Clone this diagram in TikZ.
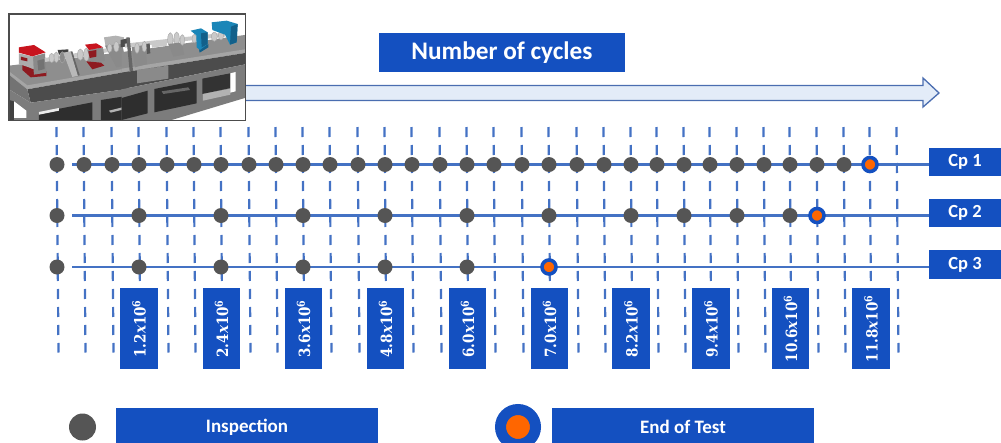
\documentclass[tikz,border=0pt]{standalone}
\usepackage{fontspec}
\setmainfont{Carlito}
\newfontfamily\valfont{DejaVu Serif}
\definecolor{boxblue}{HTML}{1450C0}
\definecolor{lineblue}{HTML}{4472C4}
\definecolor{dotgray}{HTML}{555555}
\definecolor{endorange}{HTML}{FF6600}
\definecolor{arrowfill}{HTML}{E3ECF8}
\definecolor{arrowline}{HTML}{4A6DB0}
\definecolor{rigtop}{HTML}{8E8E8E}
\definecolor{rigedge}{HTML}{A5A5A5}
\definecolor{rigdark}{HTML}{4C4C4C}
\definecolor{rigframe}{HTML}{7C7C7C}
\definecolor{rigwin}{HTML}{2E2E2E}
\definecolor{rigred}{HTML}{C8141E}
\definecolor{rigreddk}{HTML}{8E1A20}
\definecolor{rigblue}{HTML}{1A86B8}
\definecolor{rigbluedk}{HTML}{12608A}
\definecolor{rigsilver}{HTML}{C9C9C9}
\definecolor{rigsteel}{HTML}{8A8A8A}
\tikzset{
 bluebox/.style={fill=boxblue,text=white,font=\bfseries,inner sep=0pt,anchor=center},
 dashline/.style={draw=lineblue,line width=2.2pt,dash pattern=on 10pt off 8pt},
 rowline/.style={draw=lineblue,line width=2.2pt},
 dot/.style={circle,fill=dotgray,inner sep=0pt,minimum size=15pt},
 enddot/.style={circle,fill=endorange,draw=boxblue,line width=3.6pt,inner sep=0pt,minimum size=14pt},
 valbox/.style={bluebox,minimum width=37.5pt,minimum height=81pt},
 cpbox/.style={bluebox,minimum width=72pt,minimum height=28.5pt,font=\bfseries\fontsize{18.5}{18.5}\selectfont},
 legbox/.style={bluebox,minimum width=262.5pt,font=\bfseries\fontsize{19}{19}\selectfont},
 flange/.style={fill=#1,draw=black!35,line width=0.4pt},
}
\newcommand{\valtext}[1]{\rotatebox{90}{\scalebox{0.87}[1]{\valfont\bfseries\fontsize{15.5}{15.5}\selectfont #1\textit{x}10\textsuperscript{6}}}}
\begin{document}
\begin{tikzpicture}[x=1pt,y=-1pt]
\useasboundingbox (0,0) rectangle (1001,442);
% main arrow
\draw[fill=arrowfill,draw=arrowline,line width=1.3pt,line join=miter]
 (240,85.5) -- (923,85.5) -- (923,78) -- (939,93) -- (923,107) -- (923,100.5) -- (240,100.5) -- cycle;
% photo of the test rig
\begin{scope}
\clip (9,14) rectangle (245.5,120.5);
\fill[white] (9,14) rectangle (245.5,120.5);
% left half of the rig
\begin{scope}[shift={(9,14)},x=0.3333pt,y=-0.3333pt]
 \fill[rigtop] (0,155) -- (360,112) -- (360,170) -- (55,222) -- (0,180) -- cycle;
 \fill[rigedge] (0,172) -- (55,214) -- (360,162) -- (360,172) -- (55,226) -- (0,182) -- cycle;
 \fill[rigdark] (55,226) -- (360,172) -- (360,224) -- (65,266) -- cycle;
 \fill[black!55] (0,182) -- (55,226) -- (65,266) -- (0,226) -- cycle;
 \fill[rigframe] (0,226) -- (65,266) -- (360,224) -- (360,318) -- (0,318) -- cycle;
 \fill[white] (15,262) -- (52,290) -- (52,312) -- (15,312) -- cycle;
 \fill[black!75] (0,258) -- (15,262) -- (15,318) -- (0,318) -- cycle;
 \fill[rigwin] (90,296) -- (250,265) -- (250,318) -- (90,318) -- cycle;
 \fill[white!85!gray] (90,294) -- (150,282) -- (150,290) -- (90,302) -- cycle;
 \fill[rigwin] (276,258) -- (360,245) -- (360,318) -- (276,318) -- cycle;
 \fill[gray!60] (300,290) -- (340,280) -- (345,286) -- (305,296) -- cycle;
 % first red unit
 \fill[rigreddk] (40,150) -- (70,165) -- (112,172) -- (112,186) -- (65,190) -- (40,168) -- cycle;
 \fill[rigsteel] (70,128) -- (108,118) -- (112,176) -- (75,182) -- cycle;
 \fill[black!55] (85,140) -- (105,135) -- (107,165) -- (88,170) -- cycle;
 \fill[gray!65] (30,118) -- (72,128) -- (74,165) -- (30,150) -- cycle;
 \fill[rigreddk] (36,128) -- (55,133) -- (55,142) -- (36,138) -- cycle;
 \fill[rigred] (30,100) -- (75,93) -- (110,115) -- (70,127) -- (30,116) -- cycle;
 % shaft between the units
 \draw[rigsilver,line width=4pt] (108,138) -- (300,108);
 \fill[flange=rigsilver] (128,132) ellipse (8 and 14);
 \fill[flange=rigsilver] (142,130) ellipse (7 and 16);
 \fill[black!75] (146,108) -- (178,106) -- (178,118) -- (150,122) -- cycle;
 \fill[flange=rigsteel] (160,130) ellipse (8 and 17);
 % support plate
 \fill[gray!55] (163,116) -- (185,112) -- (207,185) -- (190,189) -- cycle;
 \fill[black!60] (185,112) -- (190,112) -- (212,183) -- (207,185) -- cycle;
 % second red unit
 \fill[flange=rigsilver] (214,122) ellipse (9 and 17);
 \fill[flange=rigsilver] (232,122) ellipse (8 and 20);
 \fill[rigsteel] (235,108) -- (282,100) -- (288,140) -- (248,148) -- cycle;
 \fill[rigreddk] (232,142) -- (276,146) -- (286,155) -- (250,166) -- cycle;
 \fill[rigreddk] (238,112) -- (262,108) -- (262,128) -- (242,132) -- cycle;
 \fill[rigred] (228,92) -- (262,88) -- (282,100) -- (240,108) -- cycle;
 % housing
 \fill[gray!60] (285,70) -- (320,65) -- (345,70) -- (345,92) -- (290,98) -- cycle;
 \fill[rigsteel] (288,95) -- (340,90) -- (352,155) -- (322,160) -- cycle;
 \fill[flange=rigsilver] (302,102) ellipse (7 and 13);
 \fill[flange=rigsilver] (322,98) ellipse (8 and 16);
 \fill[black!70] (335,78) -- (360,72) -- (360,96) -- (335,100) -- cycle;
\end{scope}
% right half of the rig
\begin{scope}[shift={(125,14)},x=0.3333pt,y=-0.3333pt]
 \fill[rigtop] (-10,115) -- (366,62) -- (366,112) -- (-10,174) -- cycle;
 \fill[rigedge] (-10,164) -- (366,105) -- (366,116) -- (-10,176) -- cycle;
 \fill[rigdark] (-10,176) -- (366,116) -- (366,150) -- (-10,226) -- cycle;
 \fill[rigsteel] (36,168) -- (130,155) -- (130,194) -- (36,208) -- cycle;
 \fill[rigframe] (-10,226) -- (366,150) -- (366,250) -- (140,318) -- (-10,318) -- cycle;
 \fill[rigwin] (-10,252) -- (68,230) -- (68,298) -- (-10,318) -- cycle;
 \fill[rigwin] (88,225) -- (215,200) -- (215,268) -- (88,295) -- cycle;
 \fill[black!60] (110,232) -- (190,220) -- (195,228) -- (115,240) -- cycle;
 \fill[black!80] (232,194) -- (316,178) -- (316,222) -- (232,240) -- cycle;
 \fill[gray!60] (234,240) -- (316,224) -- (316,242) -- (234,260) -- cycle;
 \fill[white] (316,178) -- (332,174) -- (332,232) -- (316,236) -- cycle;
 % shaft and couplings
 \draw[rigsilver,line width=4pt] (0,95) -- (300,62);
 \draw[rigsilver,line width=6pt] (80,92) -- (125,86);
 \fill[rigsteel] (20,100) -- (62,92) -- (66,150) -- (30,160) -- cycle;
 \fill[black!60] (4,70) -- (14,70) -- (24,170) -- (14,172) -- cycle;
 \fill[flange=rigsilver] (36,102) ellipse (7 and 16);
 \fill[flange=rigsilver] (58,98) ellipse (7 and 16);
 \fill[black!65] (64,90) -- (74,88) -- (76,118) -- (66,120) -- cycle;
 \fill[flange=rigsilver] (136,76) ellipse (8 and 20);
 \fill[flange=rigsilver] (155,74) ellipse (8 and 20);
 \fill[rigsteel] (130,90) -- (170,85) -- (178,122) -- (145,128) -- cycle;
 \fill[flange=rigsilver] (172,78) ellipse (7 and 16);
 \fill[flange=rigsilver] (208,74) ellipse (7 and 13);
 % blue units
 \fill[rigbluedk] (222,105) -- (250,90) -- (250,100) -- (224,116) -- cycle;
 \fill[rigblue] (197,50) -- (228,43) -- (248,55) -- (248,90) -- (225,108) -- (215,100) -- (214,64) -- cycle;
 \fill[rigbluedk] (228,58) -- (248,55) -- (248,90) -- (230,100) -- cycle;
 \fill[flange=rigsilver] (268,68) ellipse (9 and 14);
 \fill[flange=rigsilver] (288,64) ellipse (8 and 14);
 \fill[rigblue] (260,25) -- (305,20) -- (338,30) -- (335,85) -- (315,92) -- (300,62) -- (262,48) -- cycle;
 \fill[rigbluedk] (318,38) -- (338,30) -- (335,85) -- (315,92) -- cycle;
\end{scope}
\end{scope}
\node[draw=black!70,line width=1.2pt,minimum width=236.5pt,minimum height=106.5pt,inner sep=0pt] (photo) at (127.25,67.25) {};
% title
\node[bluebox,minimum width=246pt,minimum height=39pt,font=\bfseries\fontsize{25.3}{25.3}\selectfont] (title) at (502,52.5) {Number of cycles};
% cycle marks
\foreach \x [count=\i] in {57,84,112,139,167,194,221,249,276,303,330,358,385,412,440,467,494,522,549,577,604,631,657,684,710,737,764,790,817,844,870,897}{
 \coordinate (t\i) at (\x-0.5,127);
 \coordinate (b\i) at (\x+1.5,352.5);
 \draw[dashline] (t\i) -- (b\i);
}
% row labels
\node[cpbox] (cp1) at (965,162) {Cp 1};
\node[cpbox] (cp2) at (965,213) {Cp 2};
\node[cpbox] (cp3) at (965,264.5) {Cp 3};
\coordinate (s1) at (72,164.5);
\coordinate (s2) at (72,215.5);
\coordinate (s3) at (72,267);
\draw[rowline] (s1) -- (s1 -| cp1.west);
\draw[rowline] (s2) -- (s2 -| cp2.west);
\draw[rowline] (s3) -- (s3 -| cp3.west);
% row 1
\foreach \x [count=\i] in {57,84,112,139,167,194,221,249,276,303,330,358,385,412,440,467,494,522,549,577,604,631,657,684,710,737,764,790,817,844}{
 \node[dot] (ra\i) at (\x,164.5) {};
}
\node[enddot] (enda) at (870,164.5) {};
% row 2
\foreach \x [count=\i] in {57,139,221,303,385,467,549,631,684,737,790}{
 \node[dot] (rb\i) at (\x,215.5) {};
}
\node[enddot] (endb) at (817,215.5) {};
% row 3
\foreach \x [count=\i] in {57,139,221,303,385,467}{
 \node[dot] (rc\i) at (\x,267) {};
}
\node[enddot] (endc) at (549,267) {};
% values
\node[valbox] (v1) at (139,328.75) {\valtext{1.2}};
\node[valbox] (v2) at (221.5,328.75) {\valtext{2.4}};
\node[valbox] (v3) at (303.5,328.75) {\valtext{3.6}};
\node[valbox] (v4) at (385.5,328.75) {\valtext{4.8}};
\node[valbox] (v5) at (467.5,328.75) {\valtext{6.0}};
\node[valbox] (v6) at (549.5,328.75) {\valtext{7.0}};
\node[valbox] (v7) at (631,328.75) {\valtext{8.2}};
\node[valbox] (v8) at (711,328.75) {\valtext{9.4}};
\node[valbox] (v9) at (790.5,328.75) {\valtext{10.6}};
\node[valbox] (v10) at (871,328.75) {\valtext{11.8}};
% legend
\node[circle,fill=dotgray,inner sep=0pt,minimum size=27pt] (legdot) at (82.5,427) {};
\node[legbox,minimum height=38pt] (legi) at (247,427) {Inspection};
\node[circle,fill=endorange,draw=boxblue,line width=11pt,inner sep=0pt,minimum size=35pt] (legend) at (518,427) {};
\node[legbox,minimum height=38pt] (lege) at (683,427) {End of Test};
\end{tikzpicture}
\end{document}
